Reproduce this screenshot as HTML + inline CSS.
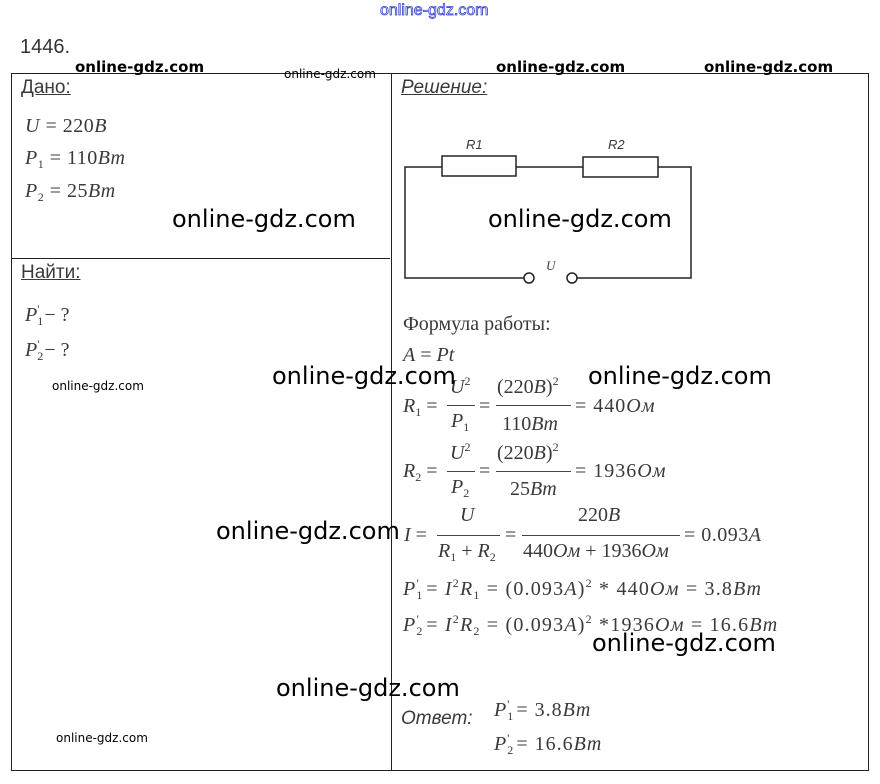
<!DOCTYPE html>
<html><head><meta charset="utf-8">
<style>
body{margin:0;width:880px;height:784px;background:#fff;position:relative;overflow:hidden;font-family:"Liberation Serif",serif;color:#3a3a3a}
.a{position:absolute;white-space:nowrap;line-height:1}
.f{font-size:20px}
.s{font-family:"Liberation Sans",sans-serif}
.w{font-family:"DejaVu Sans","Liberation Sans",sans-serif;color:#000;position:absolute;white-space:nowrap;line-height:1}
.W{font-size:24px}
.m{font-size:15px;font-weight:bold}
.t{font-size:12px}
.ln{position:absolute;height:1px;background:#444}
sub{font-size:12px;vertical-align:-4px}
sup{font-size:12px;vertical-align:8px}
.b{position:absolute;border:1px solid #222}
</style></head><body>
<div class="a s" style="left:380px;top:3px;font-size:16px;color:#fff;-webkit-text-stroke:0.8px #3340d0">online-gdz.com</div>
<div class="a s" style="left:20px;top:37px;font-size:20px;color:#333">1446.</div>
<div class="b" style="left:11px;top:73px;width:379px;height:696px"></div>
<div class="ln" style="left:11px;top:258px;width:379px;background:#222"></div>
<div class="b" style="left:391px;top:73px;width:476px;height:696px"></div>

<div class="a s" style="left:21px;top:78px;font-size:19px;text-decoration:underline">Дано:</div>
<div class="a f" style="left:25px;top:116px;letter-spacing:0.5px"><i>U</i> = 220<i>B</i></div>
<div class="a f" style="left:25px;top:148px;letter-spacing:0.5px"><i>P</i><sub>1</sub> = 110<i>Bm</i></div>
<div class="a f" style="left:25px;top:181px;letter-spacing:0.5px"><i>P</i><sub>2</sub> = 25<i>Bm</i></div>
<div class="a s" style="left:21px;top:263px;font-size:19px;text-decoration:underline">Найти:</div>
<div class="a f" style="left:25px;top:303px"><i>P</i><sub>1</sub><sup style="margin-left:-6px">'</sup> − ?</div>
<div class="a f" style="left:25px;top:338px"><i>P</i><sub>2</sub><sup style="margin-left:-6px">'</sup> − ?</div>

<div class="a s" style="left:401px;top:78px;font-size:19px;font-style:italic;text-decoration:underline">Решение:</div>
<svg style="position:absolute;left:0;top:0" width="880" height="784">
<g fill="none" stroke="#222" stroke-width="1.5">
<path d="M442 167H405V278H524 M577 278H691V167H658 M516 167H583"/>
<rect x="442" y="156" width="74" height="20" fill="#fff"/>
<rect x="583" y="157" width="75" height="20" fill="#fff"/>
<circle cx="529" cy="278" r="5"/><circle cx="572" cy="278" r="5"/>
</g></svg>
<div class="a s" style="left:466px;top:138px;font-size:13px;font-style:italic">R1</div>
<div class="a s" style="left:608px;top:138px;font-size:13px;font-style:italic">R2</div>
<div class="a" style="left:546px;top:259px;font-size:13px;font-style:italic">U</div>

<div class="a" style="left:403px;top:314px;font-size:20px">Формула работы:</div>
<div class="a f" style="left:403px;top:345px"><i>A</i> = <i>Pt</i></div>

<div class="a f" style="left:403px;top:396px"><i>R</i><sub>1</sub> =</div>
<div class="a f" style="left:450px;top:375px"><i>U</i><sup>2</sup></div>
<div class="ln" style="left:447px;top:405px;width:28px"></div>
<div class="a f" style="left:451px;top:411px"><i>P</i><sub>1</sub></div>
<div class="a f" style="left:479px;top:396px">=</div>
<div class="a f" style="left:497px;top:375px">(220<i>B</i>)<sup>2</sup></div>
<div class="ln" style="left:496px;top:405px;width:75px"></div>
<div class="a f" style="left:502px;top:414px">110<i>Bm</i></div>
<div class="a f" style="left:575px;top:396px;letter-spacing:1px">= 440<i>Ом</i></div>

<div class="a f" style="left:403px;top:461px"><i>R</i><sub>2</sub> =</div>
<div class="a f" style="left:450px;top:441px"><i>U</i><sup>2</sup></div>
<div class="ln" style="left:447px;top:471px;width:28px"></div>
<div class="a f" style="left:451px;top:477px"><i>P</i><sub>2</sub></div>
<div class="a f" style="left:479px;top:461px">=</div>
<div class="a f" style="left:497px;top:441px">(220<i>B</i>)<sup>2</sup></div>
<div class="ln" style="left:496px;top:471px;width:75px"></div>
<div class="a f" style="left:510px;top:479px">25<i>Bm</i></div>
<div class="a f" style="left:575px;top:461px;letter-spacing:1px">= 1936<i>Ом</i></div>

<div class="a f" style="left:404px;top:525px"><i>I</i> =</div>
<div class="a f" style="left:460px;top:505px"><i>U</i></div>
<div class="ln" style="left:437px;top:535px;width:63px"></div>
<div class="a f" style="left:438px;top:541px"><i>R</i><sub>1</sub> + <i>R</i><sub>2</sub></div>
<div class="a f" style="left:505px;top:525px">=</div>
<div class="a f" style="left:578px;top:505px">220<i>B</i></div>
<div class="ln" style="left:522px;top:535px;width:158px"></div>
<div class="a f" style="left:523px;top:541px">440<i>Ом</i> + 1936<i>Ом</i></div>
<div class="a f" style="left:684px;top:525px;letter-spacing:0.5px">= 0.093<i>A</i></div>

<div class="a f" style="left:403px;top:577px;letter-spacing:1.2px"><i>P</i><sub>1</sub><sup style="margin-left:-7px">'</sup> = <i>I</i><sup>2</sup><i>R</i><sub>1</sub> = (0.093<i>A</i>)<sup>2</sup> * 440<i>Ом</i> = 3.8<i>Bm</i></div>
<div class="a f" style="left:403px;top:613px;letter-spacing:1.2px"><i>P</i><sub>2</sub><sup style="margin-left:-7px">'</sup> = <i>I</i><sup>2</sup><i>R</i><sub>2</sub> = (0.093<i>A</i>)<sup>2</sup> *1936<i>Ом</i> = 16.6<i>Bm</i></div>

<div class="a s" style="left:401px;top:709px;font-size:19px;font-style:italic">Ответ:</div>
<div class="a f" style="left:494px;top:698px;letter-spacing:1px"><i>P</i><sub>1</sub><sup style="margin-left:-7px">'</sup> = 3.8<i>Bm</i></div>
<div class="a f" style="left:494px;top:732px;letter-spacing:1px"><i>P</i><sub>2</sub><sup style="margin-left:-7px">'</sup> = 16.6<i>Bm</i></div>

<div class="w m" style="left:75px;top:60px">online-gdz.com</div>
<div class="w t" style="left:284px;top:68px">online-gdz.com</div>
<div class="w m" style="left:496px;top:60px">online-gdz.com</div>
<div class="w m" style="left:704px;top:60px">online-gdz.com</div>
<div class="w W" style="left:172px;top:207px">online-gdz.com</div>
<div class="w W" style="left:488px;top:207px">online-gdz.com</div>
<div class="w t" style="left:52px;top:380px">online-gdz.com</div>
<div class="w W" style="left:272px;top:364px">online-gdz.com</div>
<div class="w W" style="left:588px;top:364px">online-gdz.com</div>
<div class="w W" style="left:216px;top:519px">online-gdz.com</div>
<div class="w W" style="left:592px;top:631px">online-gdz.com</div>
<div class="w W" style="left:276px;top:676px">online-gdz.com</div>
<div class="w t" style="left:56px;top:732px">online-gdz.com</div>
</body></html>
